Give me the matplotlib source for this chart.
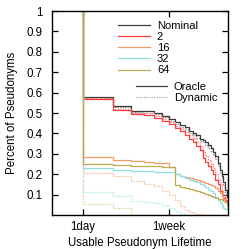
import numpy as np
import matplotlib
matplotlib.use("Agg")
import matplotlib.pyplot as plt
from matplotlib.lines import Line2D

plt.rcParams['font.family'] = ['Liberation Sans', 'DejaVu Sans']

# daily values, day 1 .. day 26 (up to day 1 everything is 1.0)
days = np.arange(1, 27)

nominal_oracle = [0.58, 0.533, 0.511, 0.508, 0.50, 0.485, 0.47, 0.455, 0.44, 0.43,
                  0.41, 0.40, 0.39, 0.375, 0.37, 0.36, 0.345, 0.33, 0.31, 0.29,
                  0.255, 0.22, 0.19, 0.16, 0.125, 0.09]
nominal_dynamic = [0.575, 0.527, 0.505, 0.502, 0.494, 0.478, 0.462, 0.447, 0.432, 0.42,
                   0.40, 0.39, 0.378, 0.364, 0.356, 0.345, 0.33, 0.315, 0.295, 0.275,
                   0.24, 0.205, 0.175, 0.145, 0.115, 0.085]
r2_oracle = [0.57, 0.515, 0.495, 0.49, 0.475, 0.46, 0.445, 0.425, 0.41, 0.39,
             0.375, 0.36, 0.34, 0.32, 0.28, 0.26, 0.24, 0.22, 0.20, 0.17,
             0.15, 0.12, 0.10, 0.085, 0.075, 0.07]
r2_dynamic = [0.573, 0.522, 0.502, 0.498, 0.485, 0.47, 0.455, 0.437, 0.423, 0.405,
              0.39, 0.376, 0.358, 0.34, 0.31, 0.29, 0.27, 0.25, 0.23, 0.20,
              0.175, 0.145, 0.12, 0.10, 0.085, 0.075]
r16_oracle = [0.283, 0.272, 0.265, 0.26, 0.257, 0.255, 0.235, 0.20, 0.19, 0.185,
              0.18, 0.175, 0.17, 0.165, 0.16, 0.155, 0.15, 0.145, 0.14, 0.13,
              0.12, 0.11, 0.095, 0.08, 0.065, 0.05]
r16_dynamic = [0.205, 0.19, 0.165, 0.15, 0.14, 0.12, 0.10, 0.075, 0.045, 0.025,
               0.015, 0.01, 0.005, 0.005, 0.0, 0.0, 0.0, 0.0, 0.0, 0.0,
               0.0, 0.0, 0.0, 0.0, 0.0, 0.0]
r32_oracle = [0.23, 0.22, 0.217, 0.215, 0.213, 0.212, 0.21, 0.20, 0.19, 0.18,
              0.172, 0.165, 0.16, 0.152, 0.145, 0.135, 0.125, 0.12, 0.11, 0.09,
              0.075, 0.06, 0.045, 0.035, 0.03, 0.03]
r32_dynamic = [0.113, 0.093, 0.07, 0.065, 0.06, 0.05, 0.035, 0.02, 0.01, 0.0,
               0.0, 0.0, 0.0, 0.0, 0.0, 0.0, 0.0, 0.0, 0.0, 0.0,
               0.0, 0.0, 0.0, 0.0, 0.0, 0.0]
r64_oracle = [0.25, 0.245, 0.242, 0.24, 0.238, 0.236, 0.235, 0.145, 0.137, 0.13,
              0.127, 0.122, 0.117, 0.112, 0.107, 0.103, 0.098, 0.093, 0.088, 0.084,
              0.08, 0.076, 0.072, 0.068, 0.062, 0.054]
r64_dynamic = [0.052, 0.036, 0.0, 0.0, 0.0, 0.0, 0.0, 0.0, 0.0, 0.0,
               0.0, 0.0, 0.0, 0.0, 0.0, 0.0, 0.0, 0.0, 0.0, 0.0,
               0.0, 0.0, 0.0, 0.0, 0.0, 0.0]

labels = ['Nominal', '2', '16', '32', '64']
colors = ['#3a3a3a', '#ff3c3c', '#f29a68', '#8ee0e0', '#bfa955']
dyn_colors = ['#8c8c8c', '#ff7878', '#f6b896', '#a8eaea', '#dccd98']
oracle = [nominal_oracle, r2_oracle, r16_oracle, r32_oracle, r64_oracle]
dynamic = [nominal_dynamic, r2_dynamic, r16_dynamic, r32_dynamic, r64_dynamic]

fig = plt.figure(figsize=(2.48, 2.49), dpi=100)
ax = fig.add_axes([52/248, 1 - 215/249, 176/248, 204/249])

x = np.concatenate([[1], days, [40]])
for i in range(5):
    yo = np.concatenate([[1.0], oracle[i], [oracle[i][-1]]])
    yd = np.concatenate([[1.0], dynamic[i], [dynamic[i][-1]]])
    ax.step(x, yd, where='post', color=dyn_colors[i], lw=0.9, ls=(0, (1, 1)))
    ax.step(x, yo, where='post', color=colors[i], lw=0.9)

ax.set_xscale('log')
ax.set_xlim(0.5, 26.6)
ax.set_ylim(0, 1)
ax.set_xticks([1, 7])
ax.set_xticklabels(['1day', '1week'])
ax.xaxis.set_minor_locator(matplotlib.ticker.NullLocator())
ax.set_yticks([0.1, 0.2, 0.3, 0.4, 0.5, 0.6, 0.7, 0.8, 0.9, 1.0])
ax.set_yticklabels(['0.1', '0.2', '0.3', '0.4', '0.5', '0.6', '0.7', '0.8', '0.9', '1'])
ax.tick_params(direction='in', length=4, width=0.9, labelsize=8.3,
               top=True, right=True)
ax.tick_params(axis='y', pad=7)
ax.tick_params(axis='x', pad=4)
for s in ax.spines.values():
    s.set_linewidth(1.0)
ax.set_xlabel('Usable Pseudonym Lifetime', fontsize=8.3, labelpad=3)
ax.set_ylabel('Percent of Pseudonyms', fontsize=8.3, labelpad=6)

h1 = [Line2D([], [], color=c, lw=0.9) for c in colors]
fig.legend(h1, labels, loc='upper left', bbox_to_anchor=(118/248, 1 - 21/249),
           frameon=False, fontsize=8, handlelength=2.9, handletextpad=0.6,
           labelspacing=0.1, borderpad=0, borderaxespad=0)
h2 = [Line2D([], [], color='#3a3a3a', lw=0.9),
      Line2D([], [], color='#aaaaaa', lw=0.9, ls=(0, (1, 1)))]
fig.legend(h2, ['Oracle', 'Dynamic'], loc='upper left', bbox_to_anchor=(136/248, 1 - 82/249),
           frameon=False, fontsize=8, handlelength=2.8, handletextpad=0.6,
           labelspacing=0.1, borderpad=0, borderaxespad=0)

fig.savefig('out.png', dpi=100)
